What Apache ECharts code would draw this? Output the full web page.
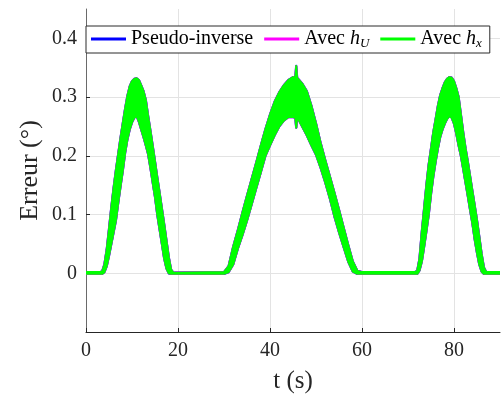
<!DOCTYPE html>
<html>
<head>
<meta charset="utf-8">
<script src="https://cdn.jsdelivr.net/npm/echarts@6/dist/echarts.min.js"></script>
<style>
html,body{margin:0;padding:0;background:#fff;}
#chart{width:502px;height:399px;}
</style>
</head>
<body>
<div id="chart"></div>
<script>
// Time samples (s)
const tSec = [
  0, 3, 3.5, 4, 4.5, 5, 5.5, 6, 6.5, 7, 7.5, 8, 8.5, 9, 9.5, 10, 10.5, 11, 11.5, 12,
  12.5, 13, 13.5, 14, 14.5, 15, 15.5, 16, 16.5, 17, 17.5, 18, 18.5, 19,
  30, 31, 32, 33, 34, 35, 36, 37, 38, 39, 40, 41, 42, 43, 44, 45, 45.5, 45.7, 45.9, 46,
  47, 48, 49, 50, 51, 52, 53, 54, 55, 56, 57, 58, 59, 60,
  71.5, 72, 72.5, 73, 73.5, 74, 74.5, 75, 75.5, 76, 76.5, 77, 77.5, 78, 78.5, 79, 79.5, 80,
  80.5, 81, 81.5, 82, 82.5, 83, 83.5, 84, 84.5, 85, 85.5, 86, 86.5, 87, 90
];
// Upper envelope of the (fast oscillating) error, degrees
const upperEnv = [
  0.002, 0.002, 0.003, 0.015, 0.04, 0.075, 0.112, 0.145, 0.175, 0.203, 0.23, 0.255, 0.28, 0.302, 0.318, 0.327, 0.331, 0.332, 0.329, 0.32,
  0.31, 0.295, 0.268, 0.243, 0.217, 0.19, 0.163, 0.137, 0.11, 0.083, 0.055, 0.027, 0.006, 0.001,
  0.002, 0.012, 0.045, 0.073, 0.103, 0.132, 0.16, 0.188, 0.217, 0.245, 0.27, 0.292, 0.308, 0.32, 0.329, 0.334, 0.333, 0.353, 0.333, 0.332,
  0.323, 0.31, 0.285, 0.255, 0.222, 0.193, 0.165, 0.137, 0.108, 0.078, 0.048, 0.02, 0.004, 0.002,
  0.002, 0.004, 0.025, 0.07, 0.11, 0.15, 0.185, 0.212, 0.24, 0.262, 0.285, 0.303, 0.315, 0.325, 0.331, 0.334, 0.333, 0.327,
  0.315, 0.3, 0.27, 0.24, 0.213, 0.19, 0.165, 0.14, 0.115, 0.09, 0.062, 0.033, 0.01, 0.002, 0.002
];
// Lower envelope of the error, degrees
const lowerEnv = [
  -0.001, -0.001, -0.001, 0.002, 0.012, 0.03, 0.05, 0.07, 0.09, 0.12, 0.148, 0.175, 0.205, 0.228, 0.245, 0.257, 0.265, 0.268, 0.258, 0.245,
  0.232, 0.218, 0.203, 0.18, 0.155, 0.13, 0.1, 0.075, 0.05, 0.025, 0.008, 0.0, -0.001, -0.001,
  -0.001, 0.002, 0.015, 0.042, 0.065, 0.09, 0.117, 0.145, 0.172, 0.2, 0.218, 0.235, 0.25, 0.26, 0.266, 0.266, 0.265, 0.248, 0.265, 0.265,
  0.25, 0.235, 0.218, 0.202, 0.18, 0.155, 0.128, 0.097, 0.07, 0.045, 0.02, 0.003, -0.001, -0.001,
  -0.001, -0.001, 0.005, 0.02, 0.045, 0.072, 0.1, 0.135, 0.165, 0.19, 0.213, 0.232, 0.245, 0.255, 0.263, 0.268, 0.265, 0.255,
  0.238, 0.218, 0.2, 0.178, 0.155, 0.132, 0.108, 0.085, 0.058, 0.035, 0.015, 0.003, -0.001, -0.001, -0.001
];
const seriesNames = ['Pseudo-inverse', 'Avec hU', 'Avec hx'];
const seriesColors = ['#0000ff', '#ff00ff', '#00ff00'];
const seriesLineWidths = [2.3, 2.15, 2];
const xTicks = [0, 20, 40, 60, 80];
const yTicks = [0, 0.1, 0.2, 0.3, 0.4];

const FONT = 'Liberation Serif';
const chart = echarts.init(document.getElementById('chart'));

const series = seriesNames.map(function (name, k) {
  const col = seriesColors[k];
  const lw = seriesLineWidths[k];
  return {
    name: name, type: 'custom',
    data: tSec.map(function (t, i) { return [t, lowerEnv[i], upperEnv[i]]; }),
    encode: { x: 0, y: [1, 2] },
    itemStyle: { color: col },
    z: 2 + k, silent: true, clip: true,
    renderItem: function (params, api) {
      if (params.dataIndex !== 0) return null;
      const pts = [];
      for (let i = 0; i < tSec.length; i++) pts.push(api.coord([tSec[i], upperEnv[i]]));
      for (let i = tSec.length - 1; i >= 0; i--) pts.push(api.coord([tSec[i], lowerEnv[i]]));
      return {
        type: 'polygon',
        shape: { points: pts },
        style: { fill: col, stroke: col, lineWidth: lw, lineJoin: 'round' }
      };
    }
  };
});

const richLegend = {
  n: { fontFamily: FONT, fontSize: 20, lineHeight: 22, color: '#000' },
  i: { fontFamily: FONT, fontSize: 20, lineHeight: 22, fontStyle: 'italic', color: '#000' },
  s: { fontFamily: FONT, fontSize: 13, lineHeight: 10, fontStyle: 'italic', verticalAlign: 'bottom', color: '#000' }
};

chart.setOption({
  animation: false,
  backgroundColor: '#fff',
  grid: { left: 86, right: 2, top: 9, bottom: 65, containLabel: false },
  legend: {
    data: seriesNames,
    left: 86, top: 26,
    padding: [3, 8, 3, 5],
    itemGap: 11,
    itemWidth: 35, itemHeight: 3,
    icon: 'rect',
    backgroundColor: '#fff',
    borderColor: '#2b2b2b', borderWidth: 1, borderRadius: 0,
    selectedMode: false,
    textStyle: { fontFamily: FONT, fontSize: 20, color: '#000', rich: richLegend },
    formatter: function (name) {
      if (name === 'Avec hU') return '{n|Avec }{i|h}{s|U}';
      if (name === 'Avec hx') return '{n|Avec }{i|h}{s|x}';
      return '{n|' + name + '}';
    }
  },
  xAxis: {
    type: 'value', min: 0, max: 90, interval: 20,
    name: 't (s)', nameLocation: 'middle', nameGap: 37, nameMoveOverlap: false,
    nameTextStyle: { fontFamily: FONT, fontSize: 25, color: '#262626' },
    axisLine: { show: true, onZero: false, lineStyle: { color: '#262626', width: 1 } },
    axisTick: { show: true, inside: true, length: 4, lineStyle: { color: '#262626' } },
    axisLabel: { fontFamily: FONT, fontSize: 20, color: '#262626', margin: 9, showMaxLabel: false,
      formatter: function (v) { return xTicks.indexOf(v) >= 0 ? String(v) : ''; } },
    splitLine: { show: true, showMinLine: false, showMaxLine: false, lineStyle: { color: '#e3e3e3', width: 1 } }
  },
  yAxis: {
    type: 'value', min: -0.1, max: 0.45, interval: 0.1,
    name: 'Erreur (°)', nameLocation: 'middle', nameGap: 43, nameMoveOverlap: false,
    nameTextStyle: { fontFamily: FONT, fontSize: 26, color: '#262626' },
    axisLine: { show: true, onZero: false, lineStyle: { color: '#6a6a6a', width: 1 } },
    axisTick: { show: true, inside: true, length: 4, lineStyle: { color: '#262626' } },
    axisLabel: { fontFamily: FONT, fontSize: 20, color: '#262626', margin: 9, showMinLabel: false, showMaxLabel: false,
      formatter: function (v) {
        const r = Math.round(v * 10) / 10;
        return yTicks.indexOf(r) >= 0 ? String(r) : '';
      } },
    splitLine: { show: true, showMinLine: false, showMaxLine: false, lineStyle: { color: '#e3e3e3', width: 1 } }
  },
  series: series
});
</script>
</body>
</html>
